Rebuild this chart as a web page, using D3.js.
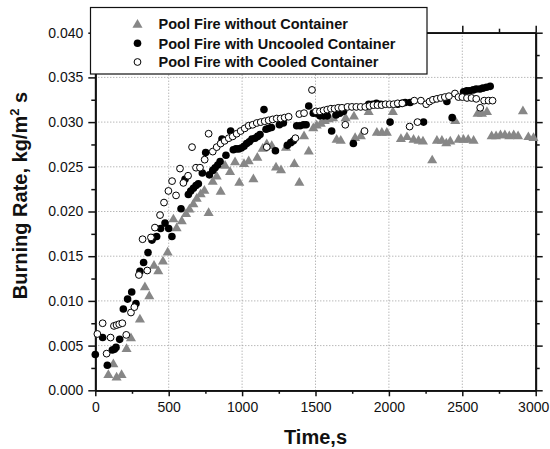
<!DOCTYPE html>
<html>
<head>
<meta charset="utf-8">
<script src="https://cdn.jsdelivr.net/npm/d3@7"></script>
<style>
  html, body { margin: 0; padding: 0; background: #fff; }
  svg { display: block; }
  text { font-family: "Liberation Sans", Arial, sans-serif; }
</style>
</head>
<body>
<svg id="chart" width="550" height="449"></svg>
<script>
// ---- Data (time in s, burning rate in kg/m^2 s) ----
const seriesNames = ["Pool Fire without Container", "Pool Fire with Uncooled Container", "Pool Fire with Cooled Container"];

const withoutContainer = [
  [89,.0018],[123,.0030],[145,.0015],[179,.0018],[213,.0047],[243,.0059],[304,.0080],[338,.0116],
  [368,.0106],[400,.0140],[429,.0134],[461,.0145],[493,.0155],[532,.0192],[554,.0182],[589,.0190],
  [618,.0198],[641,.0203],[668,.0209],[691,.0215],[718,.0220],[743,.0224],[772,.0199],[800,.0234],
  [827,.0240],[854,.0223],[884,.0252],[918,.0245],[952,.0256],[981,.0233],[1013,.0254],[1045,.0257],
  [1077,.0237],[1104,.0261],[1140,.0271],[1168,.0276],[1202,.0274],[1231,.0250],[1265,.0247],[1299,.0272],
  [1356,.0254],[1390,.0233],[1422,.0285],[1454,.0268],[1485,.0294],[1508,.0297],[1536,.0299],[1563,.0302],
  [1590,.0304],[1620,.0305],[1644,.0281],[1672,.0280],[1705,.0305],[1762,.0307],[1770,.0283],[1809,.0285],
  [1862,.0312],[1918,.0289],[1952,.0289],[1986,.0289],[2027,.0312],[2082,.0282],[2123,.0284],[2168,.0281],
  [2202,.0280],[2232,.0279],[2295,.0258],[2327,.0280],[2361,.0280],[2391,.0277],[2418,.0279],[2452,.0302],
  [2475,.0281],[2508,.0281],[2540,.0281],[2577,.0280],[2604,.0310],[2634,.0310],[2668,.0312],[2700,.0285],
  [2730,.0285],[2760,.0286],[2790,.0286],[2820,.0285],[2850,.0286],[2880,.0285],[2913,.0313],[2950,.0284],
  [2985,.0283]
];

const uncooledContainer = [
  [0,.0040],[50,.0059],[82,.0028],[116,.0045],[130,.0046],[141,.0048],[166,.0057],[191,.0091],
  [220,.0102],[248,.0110],[277,.0097],[304,.0133],[329,.0143],[359,.0154],[386,.0168],[395,.0171],
  [418,.0172],[445,.0181],[475,.0187],[500,.0181],[522,.0172],[584,.0203],[611,.0236],[634,.0219],
  [650,.0223],[668,.0226],[686,.0229],[702,.0231],[729,.0243],[752,.0266],[777,.0241],[800,.0246],
  [816,.0249],[834,.0252],[850,.0256],[863,.0281],[890,.0263],[922,.0290],[940,.0269],[958,.0270],
  [977,.0270],[995,.0271],[1013,.0273],[1031,.0276],[1049,.0278],[1067,.0281],[1088,.0282],[1106,.0284],
  [1122,.0286],[1149,.0314],[1163,.0292],[1181,.0293],[1200,.0294],[1227,.0268],[1254,.0297],[1281,.0299],
  [1308,.0274],[1331,.0277],[1349,.0279],[1372,.0296],[1395,.0296],[1418,.0297],[1436,.0297],[1454,.0318],
  [1485,.0310],[1508,.0310],[1530,.0307],[1555,.0307],[1580,.0307],[1610,.0290],[1640,.0308],[1665,.0310],
  [1691,.0312],[1758,.0276],[1862,.0320],[1890,.0320],[1915,.0321],[1945,.0320],[2008,.0300],[2060,.0320],
  [2089,.0321],[2111,.0322],[2145,.0322],[2236,.0300],[2395,.0323],[2431,.0305],[2509,.0334],[2530,.0335],
  [2550,.0335],[2575,.0336],[2595,.0337],[2620,.0337],[2640,.0338],[2665,.0339],[2690,.0340]
];

const cooledContainer = [
  [14,.0063],[50,.0075],[77,.0041],[104,.0059],[127,.0072],[145,.0073],[163,.0074],[184,.0075],
  [211,.0062],[243,.0087],[266,.0093],[297,.0129],[322,.0169],[354,.0134],[379,.0171],[406,.0182],
  [441,.0196],[468,.0210],[498,.0223],[523,.0234],[550,.0218],[577,.0248],[600,.0232],[632,.0240],
  [659,.0272],[686,.0249],[713,.0249],[745,.0258],[772,.0287],[800,.0267],[827,.0272],[854,.0276],
  [881,.0279],[909,.0282],[936,.0284],[963,.0287],[990,.0290],[1018,.0293],[1045,.0296],[1072,.0297],
  [1100,.0299],[1127,.0300],[1154,.0301],[1168,.0272],[1181,.0302],[1208,.0303],[1236,.0304],[1263,.0304],
  [1290,.0305],[1317,.0306],[1363,.0282],[1390,.0309],[1422,.0310],[1476,.0336],[1503,.0312],[1530,.0312],
  [1555,.0313],[1580,.0314],[1605,.0315],[1630,.0315],[1655,.0316],[1680,.0316],[1703,.0297],[1718,.0317],
  [1748,.0317],[1778,.0317],[1808,.0317],[1834,.0290],[1839,.0317],[1868,.0318],[1895,.0319],[1922,.0319],
  [1950,.0319],[1977,.0320],[2005,.0320],[2032,.0320],[2060,.0321],[2091,.0321],[2141,.0295],[2173,.0324],
  [2195,.0300],[2218,.0324],[2254,.0320],[2277,.0323],[2300,.0325],[2327,.0326],[2354,.0327],[2381,.0328],
  [2409,.0329],[2450,.0332],[2474,.0328],[2500,.0328],[2532,.0327],[2563,.0327],[2595,.0326],[2622,.0316],
  [2649,.0324],[2679,.0324],[2706,.0324]
];

const xMajorTicks = [0, 500, 1000, 1500, 2000, 2500, 3000];
const xMinorTicks = [250, 750, 1250, 1750, 2250, 2750];
const yMajorTicks = [0.000, 0.005, 0.010, 0.015, 0.020, 0.025, 0.030, 0.035, 0.040];
const yMinorTicks = [0.0025, 0.0075, 0.0125, 0.0175, 0.0225, 0.0275, 0.0325, 0.0375];
const xTitle = "Time,s";

// ---- Layout ----
const svg = d3.select("#chart");
const L = 95.3, R = 535.7, T = 32.7, B = 390.3;
const x = d3.scaleLinear().domain([0, 3000]).range([L, R]);
const y = d3.scaleLinear().domain([0, 0.04]).range([B, T]);
const gray = "#878787";

// grid
const grid = svg.append("g");
grid.selectAll("line.gx").data(xMajorTicks.filter(d => d > 0 && d < 3000)).join("line")
  .attr("x1", d => x(d)).attr("x2", d => x(d)).attr("y1", T).attr("y2", B)
  .attr("stroke", "#9a9a9a").attr("stroke-width", 1).attr("stroke-dasharray", "1,2");
grid.selectAll("line.gy").data(yMajorTicks.filter(d => d > 0 && d < 0.04)).join("line")
  .attr("y1", d => y(d)).attr("y2", d => y(d)).attr("x1", L).attr("x2", R)
  .attr("stroke", "#9a9a9a").attr("stroke-width", 1).attr("stroke-dasharray", "1,2");

// axes
function styleAxis(g) {
  g.select(".domain").attr("stroke", "#111").attr("stroke-width", 1.8);
  g.selectAll(".tick line").attr("stroke", "#111").attr("stroke-width", 1.5);
  g.selectAll(".tick text").attr("font-size", 14).attr("fill", "#111")
    .attr("font-family", "'Liberation Sans', Arial, sans-serif");
}
const fmtY = d3.format(".3f");

const xAxisB = svg.append("g").attr("transform", `translate(0,${B})`)
  .call(d3.axisBottom(x).tickValues(xMajorTicks).tickFormat(d3.format("d")).tickSize(6).tickPadding(6).tickSizeOuter(0));
styleAxis(xAxisB);
// keep the last label ("3000") inside the picture
xAxisB.selectAll(".tick text").filter(d => d === 3000).attr("dx", -2.5);
const xAxisBm = svg.append("g").attr("transform", `translate(0,${B})`)
  .call(d3.axisBottom(x).tickValues(xMinorTicks).tickFormat("").tickSize(3.5).tickSizeOuter(0));
styleAxis(xAxisBm);

const yAxisL = svg.append("g").attr("transform", `translate(${L},0)`)
  .call(d3.axisLeft(y).tickValues(yMajorTicks).tickFormat(fmtY).tickSize(7).tickPadding(5).tickSizeOuter(0));
styleAxis(yAxisL);
const yAxisLm = svg.append("g").attr("transform", `translate(${L},0)`)
  .call(d3.axisLeft(y).tickValues(yMinorTicks).tickFormat("").tickSize(4).tickSizeOuter(0));
styleAxis(yAxisLm);

const xAxisT = svg.append("g").attr("transform", `translate(0,${T})`)
  .call(d3.axisTop(x).tickValues(xMajorTicks).tickFormat("").tickSize(7).tickSizeOuter(0));
styleAxis(xAxisT);
const xAxisTm = svg.append("g").attr("transform", `translate(0,${T})`)
  .call(d3.axisTop(x).tickValues(xMinorTicks).tickFormat("").tickSize(4).tickSizeOuter(0));
styleAxis(xAxisTm);

const yAxisR = svg.append("g").attr("transform", `translate(${R},0)`)
  .call(d3.axisRight(y).tickValues(yMajorTicks).tickFormat("").tickSize(7).tickSizeOuter(0));
styleAxis(yAxisR);
const yAxisRm = svg.append("g").attr("transform", `translate(${R},0)`)
  .call(d3.axisRight(y).tickValues(yMinorTicks).tickFormat("").tickSize(4).tickSizeOuter(0));
styleAxis(yAxisRm);

// markers
const tri = d3.symbol().type(d3.symbolTriangle).size(44);
svg.append("g").selectAll("path").data(withoutContainer).join("path")
  .attr("d", tri).attr("transform", d => `translate(${x(d[0])},${y(d[1]) + 0.8})`)
  .attr("fill", gray);
svg.append("g").selectAll("circle").data(uncooledContainer).join("circle")
  .attr("cx", d => x(d[0])).attr("cy", d => y(d[1])).attr("r", 3.8).attr("fill", "#000");
svg.append("g").selectAll("circle").data(cooledContainer).join("circle")
  .attr("cx", d => x(d[0])).attr("cy", d => y(d[1])).attr("r", 3.4)
  .attr("fill", "#fff").attr("stroke", "#000").attr("stroke-width", 1);

// legend
const leg = svg.append("g");
leg.append("rect").attr("x", 90.5).attr("y", 7.5).attr("width", 336.5).attr("height", 66.5)
  .attr("fill", "#fff").attr("stroke", "#111").attr("stroke-width", 1.2);
const legRows = [24, 43.3, 62];
leg.append("path").attr("d", tri).attr("transform", `translate(137.5,${legRows[0] + 0.8})`).attr("fill", gray);
leg.append("circle").attr("cx", 137.5).attr("cy", legRows[1]).attr("r", 3.8).attr("fill", "#000");
leg.append("circle").attr("cx", 137.5).attr("cy", legRows[2]).attr("r", 3.4).attr("fill", "#fff")
  .attr("stroke", "#000").attr("stroke-width", 1);
leg.selectAll("text").data(seriesNames).join("text")
  .attr("x", 158.6).attr("y", (d, i) => legRows[i] + 5.2)
  .attr("font-size", 14.5).attr("font-weight", "bold").attr("fill", "#111").text(d => d);

// axis titles
svg.append("text").attr("x", (L + R) / 2).attr("y", 444)
  .attr("text-anchor", "middle").attr("font-size", 20).attr("font-weight", "bold").attr("fill", "#111")
  .text(xTitle);
const yt = svg.append("text").attr("transform", "translate(27,195.5) rotate(-90)")
  .attr("text-anchor", "middle").attr("font-size", 20).attr("font-weight", "bold").attr("fill", "#111");
yt.append("tspan").text("Burning Rate, kg/m");
yt.append("tspan").attr("font-size", 13).attr("dy", -8).text("2");
yt.append("tspan").attr("dy", 8).text(" s");
</script>
</body>
</html>
